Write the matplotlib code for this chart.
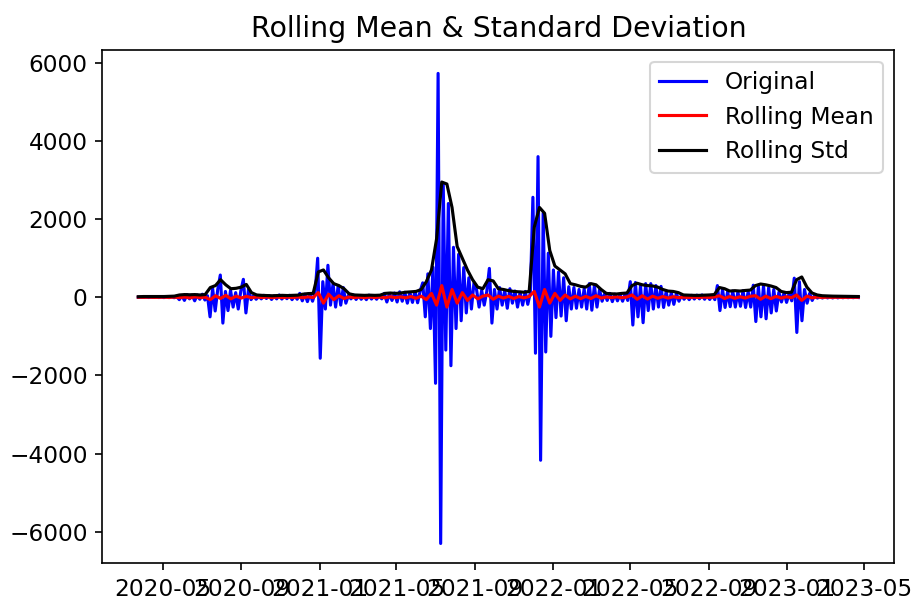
import numpy as np
import pandas as pd
import matplotlib
matplotlib.use("Agg")
import matplotlib.pyplot as plt
import matplotlib.dates as mdates

# differenced daily series, sampled every 4 days
start = "2020-03-24"
orig_vals = [
    0, 4, -3, 6, -5, 3, -4, 8, -6, 5, -7, 10, -8, 12, -10, 15,
    -60, 45, -80, 70, -40, 55, -90, 60, -50, 80, -70, 40,
    -500, 230, -350, 200,
    570, -660,
    150, -340, 180, -250, 120, -300, 160,
    460, -400, 200,
    -60, 40, -50, 30, -40, 50, -30, 45, -55, 35, -40, 60, -45, 30, -35, 50, -60, 40, -50,
    100, -90, 80, -110, 90, -100, 120,
    1000, -1560, 400,
    -300, 820, -200, 350,
    -250, 300, -200, 250, -150,
    50, -40, 60, -55, 45, -50, 40, -60, 55, -45, 35, -50, 45, -40,
    100, -120, 90, -80, 110,
    -120, 140, -100, 130, -150, 120, -130, 150, -140, 160,
    370, -500, 600, -800, 770, -2200,
    5730, -6300,
    2900, -1350, 2400, -1750, 1280, -800, 1100, -600, 760, -400, 500, -300, 370,
    200, -250, 180, -200, 150,
    740, -660,
    200, -300, 250, -200, 180, -280, 220, -150, 160, -250, 130, -200, 150, -180, 120,
    2560, -1430,
    3600, -4170,
    2150, -1400,
    1130, -1000,
    700, -520, 650, -480, 500, -600,
    270, -300, 250, -280, 200, -250, 220, -300,
    350, -330, 300, -250, 200,
    -100, 90, -80, 100, -110, 80, -90, 70, -100, 90, -80,
    400, -710, 380, -500, 300, -650, 350,
    -340, 350, -300, 300, -250, 280,
    -260, 150, -200, 120, -180, 100, -100,
    60, -50, 40, -60, 50, -45, 55, -40, 60, -50, 45, -55, 50, -60,
    300, -340, 200,
    -260, 150, -240, 160, -250, 140, -230, 170, -260, 150, -250,
    310, -620, 280, -500, 300, -550,
    250, -400, 200, -350,
    130, -120, 110, -130, 100, -90,
    490, -900, 400, -600,
    200, -150, 100, -80, 60,
    -20, 15, -18, 20, -15, 12, -16, 18, -14, 10, -12, 15, -10, 8, -10, 6, -5,
]

# rolling statistics, every 8 days
roll_mean = [
    2, -1, 3, -2, 1, 2, -3, 5,
    -10, 8, -15, 12, -8, 5,
    -60, 40, -30, 50, -40, 30, -20, 25,
    -10, 8, -5, 6, -8, 5, -6, 4, -5, 8, -10, 12, -8,
    120, -150, 80, -60, 40, -30,
    10, -8, 6, -10, 8, -5, 7, -12, 15, -10, 12, -15, 20, -25, 30,
    -60, 100, -200, 300, -250, 200, -150, 120, -80, 60, -40, 30, 60, -50,
    30, -20, 25, -30, 20, -15, 20,
    150, -250, 200, -150, 100, -80, 60,
    -40, 30, -35, 25, -30, 40, -20,
    10, -8, 12, -10, 8,
    60, -50, 40, -45, 30, -25, 20, -20, 15, -10,
    5, -6, 4, -5, 6, -4, 8,
    40, -30, 20, -25, 15, -20, 25,
    40, -50, 30, -35, 25, -20, 15, -12,
    60, -80, 30, -15, 8,
    -4, 3, -2, 2, -3, 1, -1, 2,
]
roll_std = [
    15, 20, 20, 18, 22, 20, 25, 30,
    60, 70, 65, 70, 60, 70,
    250, 300,
    450,
    320, 220, 230, 260,
    330,
    120, 60, 50, 45, 40, 45, 50, 45, 50, 55,
    80, 95, 100,
    650, 700,
    500, 350, 300, 220,
    90, 60, 55, 50, 55, 50, 55,
    100, 110, 100,
    110, 130, 140, 150, 200,
    400, 700,
    1500, 2950, 2900, 2300, 1300, 1000, 700, 450,
    260, 220,
    450, 420,
    220, 200, 170, 150, 140, 130, 150,
    1800, 2300, 2150, 1200,
    800, 700, 600,
    350, 320, 280, 260,
    350, 320, 200,
    100, 90, 85, 100, 110,
    300, 360, 320, 300,
    290, 260, 200,
    160, 150, 120,
    60, 55, 50, 50, 55, 60, 70,
    250, 220,
    160, 170, 160, 175, 185,
    300, 340, 320,
    290, 250,
    150, 120, 130,
    450, 520,
    260, 110, 60,
    40, 35, 30, 28, 25, 22, 20, 20,
]

dates = pd.date_range(start, periods=len(orig_vals), freq="4D")
stat_dates = pd.date_range(dates[0], dates[-1], periods=len(roll_std))

orig = pd.Series(orig_vals, index=dates)
rmean = pd.Series(roll_mean, index=stat_dates)
rstd = pd.Series(roll_std, index=stat_dates)

plt.rcParams["xtick.labelsize"] = 11.2
plt.rcParams["ytick.labelsize"] = 11.2

fig = plt.figure(figsize=(911 / 150, 606 / 150), dpi=150)
ax = fig.add_axes([0.1123, 0.0710, 0.8694, 0.8465])

ax.plot(orig, color="blue", label="Original")
ax.plot(rmean, color="red", label="Rolling Mean")
ax.plot(rstd, color="black", label="Rolling Std")

ax.set_ylim(-6800, 6330)
ax.xaxis.set_major_locator(mdates.MonthLocator(bymonth=[1, 5, 9]))
ax.xaxis.set_major_formatter(mdates.DateFormatter("%Y-%m"))
ax.legend(loc="best", fontsize=11.2)
ax.set_title("Rolling Mean & Standard Deviation", fontsize=13.6)

fig.savefig("out.png", dpi=150)
